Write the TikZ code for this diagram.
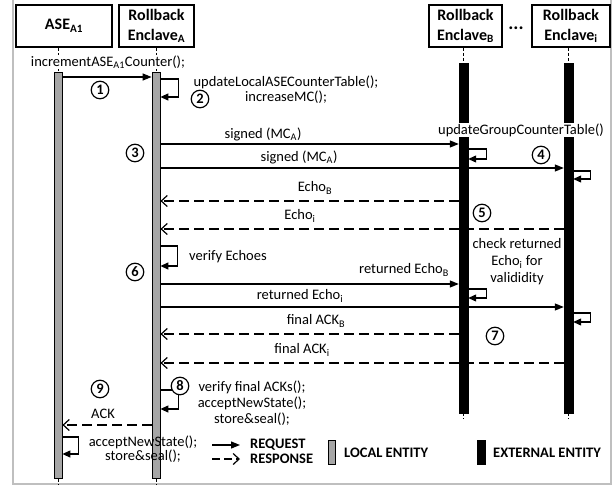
\documentclass[tikz,border=0pt]{standalone}
\usepackage{fontspec}
\setmainfont{Carlito}
\usetikzlibrary{arrows.meta}
\newcommand\fsz{\fontsize{14.5bp}{17bp}\selectfont}
\begin{document}
\begin{tikzpicture}[x=1bp,y=-1bp,
  every node/.style={font=\fsz, inner sep=0pt},
  hdr/.style={draw, line width=2bp, font=\bfseries\fontsize{16bp}{20bp}\selectfont, align=center, anchor=north west, minimum height=42bp},
  lbar/.style={draw, line width=0.8bp, fill=black!35, minimum width=8bp, anchor=north, inner sep=0pt},
  xbar/.style={draw, fill=black, minimum width=9bp, anchor=north, inner sep=0pt},
  life/.style={line width=0.8bp, dash pattern=on 3bp off 2bp},
  req/.style={line width=1.2bp, -{Triangle[length=9bp,width=7bp]}},
  resp/.style={line width=1.2bp, dash pattern=on 10bp off 5bp, -{Straight Barb[length=6bp,width=11bp]}},
  selfl/.style={line width=1.2bp, -{Triangle[length=8bp,width=7bp]}},
  num/.style={circle, draw, fill=white, line width=1.2bp, minimum size=17.5bp, font=\bfseries\fsz},
  lbl/.style={fill=white, inner sep=1bp},
  leg/.style={font=\bfseries\fsz, anchor=west}
]
\useasboundingbox (0,0) rectangle (615,486);
% frame
\draw[black!25, line width=1.5bp] (13,-2) -- (13,484) -- (611,484) -- (611,-2);

% headers
\node[hdr, minimum width=96bp] (hASE) at (15,4) {ASE\textsubscript{A1}};
\node[hdr, minimum width=75bp] (hA) at (118,4) {Rollback\\Enclave\textsubscript{A}};
\node[hdr, minimum width=73bp] (hB) at (428,4) {Rollback\\Enclave\textsubscript{B}};
\node[hdr, minimum width=78bp] (hI) at (531,4) {Rollback\\Enclave\textsubscript{i}};
\node[font=\bfseries\fontsize{19bp}{20bp}\selectfont] (dots) at (516,28) {...};

% bars
\node[lbar, minimum height=406bp] (bASE) at (58,72) {};
\node[lbar, minimum height=406bp] (bA) at (156,72) {};
\node[xbar, minimum height=350bp] (bB) at (463.5,63) {};
\node[xbar, minimum height=350bp] (bI) at (568.5,63) {};

% lifeline dashes
\draw[life] (bASE.north |- hASE.south) -- (bASE.north);
\draw[life] (bA.north |- hA.south) -- (bA.north);
\draw[life] (bB.north |- hB.south) -- (bB.north);
\draw[life] (bI.north |- hI.south) -- (bI.north);
\draw[life] (bASE.south) -- ++(0,6);
\draw[life] (bA.south) -- ++(0,6);
\draw[life] (bB.south) -- ++(0,6);
\draw[life] (bI.south) -- ++(0,6);

% messages
\draw[req] (bASE.east |- 0,77) -- (bA.west |- 0,77);
\node[lbl] (t1) at (108,62) {incrementASE\textsubscript{A1}Counter();};

\draw[req] (bA.east |- 0,144) -- (bB.west |- 0,144);
\node (t3a) at (263,134) {signed (MC\textsubscript{A})};
\draw[req] (bA.east |- 0,168) -- (bI.west |- 0,168);
\node (t3b) at (299,157) {signed (MC\textsubscript{A})};

\draw[resp] (bB.west |- 0,201) -- (bA.east |- 0,201);
\node (tEB) at (315,188) {Echo\textsubscript{B}};
\draw[resp] (bI.west |- 0,229) -- (bA.east |- 0,229);
\node (tEI) at (300,216) {Echo\textsubscript{i}};

\draw[req] (bA.east |- 0,284) -- (bB.west |- 0,284);
\node (tRB) at (404,270) {returned Echo\textsubscript{B}};
\draw[req] (bA.east |- 0,307) -- (bI.west |- 0,307);
\node (tRI) at (300,296) {returned Echo\textsubscript{i}};

\draw[resp] (bB.west |- 0,334) -- (bA.east |- 0,334);
\node (tFB) at (316,321) {final ACK\textsubscript{B}};
\draw[resp] (bI.west |- 0,363) -- (bA.east |- 0,363);
\node (tFI) at (302,350) {final ACK\textsubscript{i}};

\draw[resp] (bA.west |- 0,425) -- (bASE.east |- 0,425);
\node (tACK) at (103,414) {ACK};

% self loops
\draw[selfl] (bA.east |- 0,79) -- ++(18,0) |- (bA.east |- 0,97);
\draw[selfl] (bB.east |- 0,149) -- ++(18,0) |- (bB.east |- 0,159);
\draw[selfl] (bI.east |- 0,171) -- ++(17,0) |- (bI.east |- 0,179);
\draw[selfl] (bA.east |- 0,246) -- ++(17,0) |- (bA.east |- 0,266);
\draw[selfl] (bB.east |- 0,289) -- ++(18,0) |- (bB.east |- 0,298);
\draw[selfl] (bI.east |- 0,313) -- ++(17,0) |- (bI.east |- 0,322);
\draw[selfl] (bA.east |- 0,390) -- ++(18,0) |- (bA.east |- 0,409);
\draw[selfl] (bASE.east |- 0,437) -- ++(16,0) |- (bASE.east |- 0,454);

% loop texts
\node[align=center, font=\fontsize{14.5bp}{15bp}\selectfont] (t2) at (286,90) {updateLocalASECounterTable();\\increaseMC();};
\node[lbl] (tUG) at (521,130) {updateGroupCounterTable()};
\node[align=center, font=\fontsize{14.5bp}{17bp}\selectfont] (t5) at (517,262) {check returned\\Echo\textsubscript{i} for\\valididity};
\node[anchor=west] (t6) at (189,257) {verify Echoes};
\node[align=center, font=\fontsize{14.5bp}{16bp}\selectfont] (t8) at (252,403) {verify final ACKs();\\acceptNewState();\\store\&seal();};
\node[align=center, font=\fontsize{14.5bp}{14bp}\selectfont] (t9) at (143,449) {acceptNewState();\\store\&seal();};

% numbers
\node[num] (c1) at (100,90) {1};
\node[num] (c2) at (200,99) {2};
\node[num] (c3) at (135,153) {3};
\node[num] (c4) at (541,155) {4};
\node[num] (c5) at (482,213) {5};
\node[num] (c6) at (135,272) {6};
\node[num] (c7) at (495,336) {7};
\node[num] (c8) at (180,386) {8};
\node[num] (c9) at (100,389) {9};

% legend
\coordinate (lq1) at (212,445);
\coordinate (lq2) at (240,445);
\coordinate (lr1) at (212,459);
\coordinate (lr2) at (240,459);
\draw[req] (lq1) -- (lq2);
\draw[resp, dash pattern=on 8bp off 4bp] (lr1) -- (lr2);
\node[leg] (lgq) at (250,445) {REQUEST};
\node[leg] (lgr) at (250,459) {RESPONSE};
\node[lbar, minimum height=24bp, minimum width=7bp] (lgl) at (331.5,440) {};
\node[leg] (lglt) at (344,453) {LOCAL ENTITY};
\node[xbar, minimum height=24bp, minimum width=8bp] (lgx) at (481,440) {};
\node[leg] (lgxt) at (493,453) {EXTERNAL ENTITY};
\end{tikzpicture}
\end{document}
